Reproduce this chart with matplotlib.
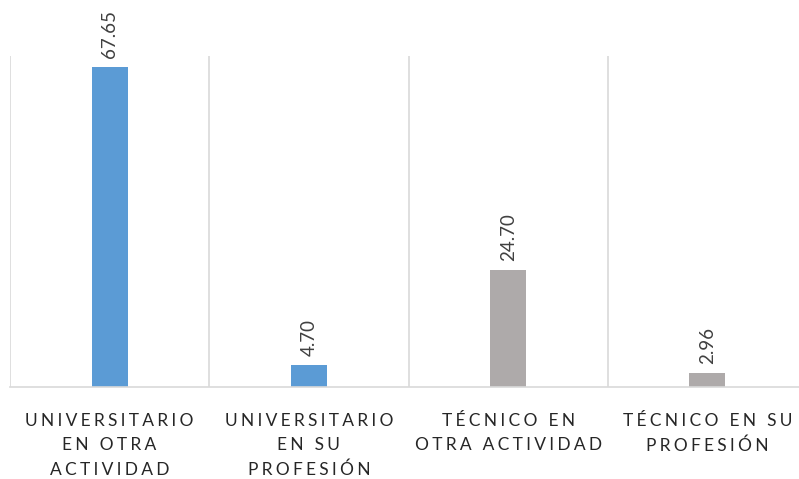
import numpy as np
import matplotlib.pyplot as plt

categories = ['UNIVERSITARIO\nEN OTRA\nACTIVIDAD', 'UNIVERSITARIO\nEN SU\nPROFESIÓN',
              'TÉCNICO EN\nOTRA ACTIVIDAD', 'TÉCNICO EN SU\nPROFESIÓN']
values = [67.65, 4.70, 24.70, 2.96]
colors = ['#5B9BD5', '#5B9BD5', '#AEAAAA', '#AEAAAA']

plt.rcParams['font.family'] = ['Lato', 'DejaVu Sans']

GAP = '\u2009\u200a'


def spaced(s):
    # espaciado entre letras
    lines = []
    for line in s.split('\n'):
        words = [GAP.join(w) for w in line.split(' ')]
        lines.append((GAP + ' ' + GAP).join(words))
    return '\n'.join(lines)


fig = plt.figure(figsize=(7.99, 4.79), dpi=100)
ax = fig.add_axes([10 / 799, 1 - 387 / 479, 797 / 799, 331 / 479])

x = np.arange(len(values))
ax.bar(x, values, width=0.18, color=colors, zorder=3)

for xi, v in zip(x, values):
    ax.text(xi, v + 1.9, f'{v:.2f}', rotation=90, ha='center', va='bottom',
            fontsize=13.5, color='#404040')

ax.set_xlim(-0.5, len(values) - 0.5)
ax.set_ylim(0, 70)
ax.set_yticks([])
ax.set_xticks(x)
ax.set_xticklabels([spaced(c) for c in categories], fontsize=12.5, color='#262626',
                   linespacing=1.62)
ax.tick_params(axis='x', length=0, pad=19)
ax.set_xticks(np.arange(-0.5, len(values)), minor=True)
ax.tick_params(axis='x', which='minor', length=0)
ax.grid(True, which='minor', axis='x', color='#D9D9D9', linewidth=1.2)

for side in ['top', 'left', 'right']:
    ax.spines[side].set_visible(False)
ax.spines['bottom'].set_color('#D9D9D9')
ax.spines['bottom'].set_linewidth(1.2)
ax.spines['bottom'].set_zorder(4)

fig.savefig('out.png', dpi=100)
